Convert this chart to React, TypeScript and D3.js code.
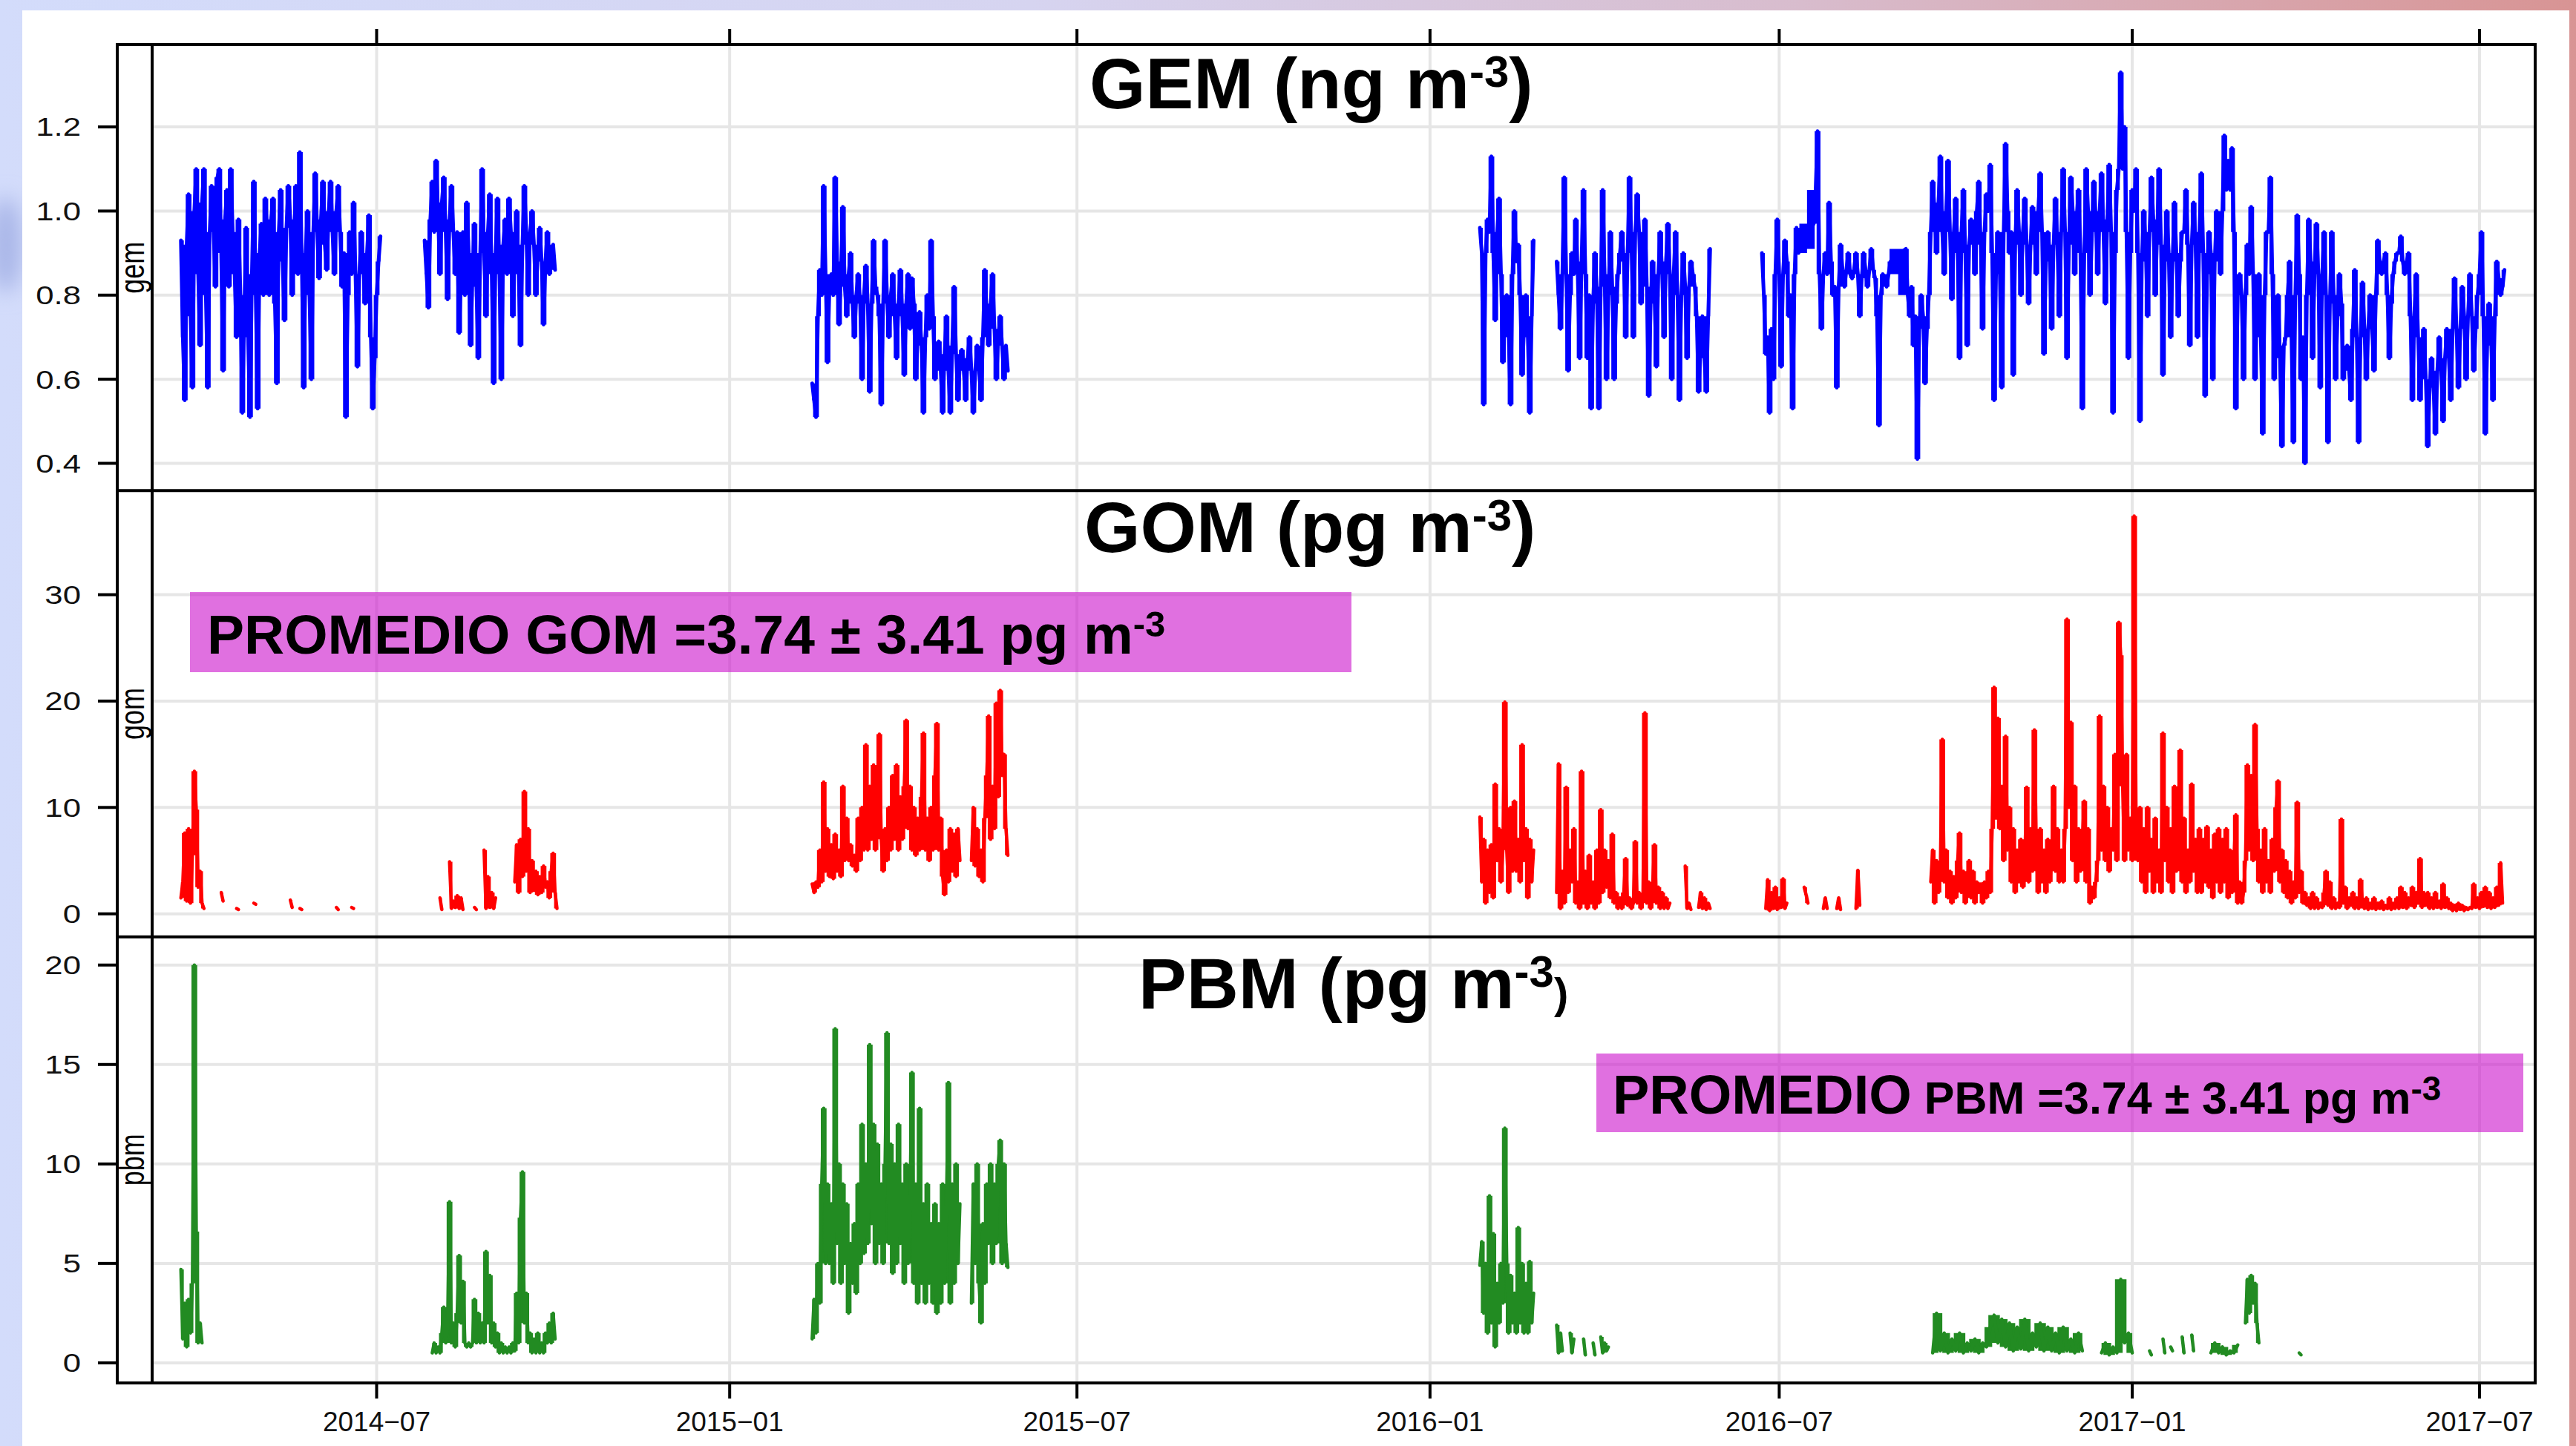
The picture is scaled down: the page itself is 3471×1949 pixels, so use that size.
import { useEffect, useRef } from "react";
import * as d3 from "d3";

const W = 3471;
const H = 1949;
const FONT = "'Liberation Sans', Arial, Helvetica, sans-serif";

// time axis
const xLimits = ["2014-03-06", "2017-07-30"];
const monthTicks = ["2014-07-01", "2015-01-01", "2015-07-01", "2016-01-01", "2016-07-01", "2017-01-01", "2017-07-01"];

// y axes
const gemLimits = [0.335, 1.396];
const gomLimits = [-2.16, 39.78];
const pbmLimits = [-1.01, 21.42];
const gemTicks = [0.4, 0.6, 0.8, 1.0, 1.2];
const gomTicks = [0, 10, 20, 30];
const pbmTicks = [0, 5, 10, 15, 20];

// ---- GEM (ng m-3), daily
const gem14a = [
  0.93,0.70,0.55,0.92,1.04,0.75,0.58,1.00,1.10,0.85,0.68,1.02,1.10,0.80,0.58,0.95,1.06,0.96,0.82,1.08,
  1.10,0.90,0.62,0.98,1.05,0.82,1.10,0.95,0.85,0.70,0.98,0.80,0.52,0.75,0.96,0.70,0.51,0.85,1.07,0.80,
  0.53,0.90,0.97,0.80,1.03,0.95,0.80,0.98,1.03,0.78,0.59,0.95,1.05,0.88,0.74,0.96,1.06,0.98,0.80,0.95,
  1.06,0.85,1.14,0.88,0.58,0.90,1.00,0.80,0.60,0.95,1.09,0.96,0.84,0.98,1.07,0.92,0.86,1.00,1.07,0.95,
  0.85,1.00,1.06,0.95,0.82,0.90,0.51,0.80,0.95,0.85,1.02,0.85,0.63,0.85,0.95,0.88,0.78,0.90,0.99,0.70,
  0.53,0.65,0.80,0.88,0.94];
const gem14b = [
  0.93,0.85,0.77,0.98,1.07,0.95,1.12,1.00,0.85,1.02,1.08,0.95,0.79,0.98,1.06,0.95,0.85,0.95,0.71,0.85,
  0.95,0.80,1.02,0.90,0.68,0.85,0.97,0.82,0.65,0.90,1.10,0.90,0.75,0.95,1.04,0.85,0.59,0.90,1.03,0.85,
  0.60,0.92,0.98,0.85,1.03,0.95,0.75,0.92,1.00,0.85,0.68,0.92,1.06,0.95,0.80,0.95,1.00,0.92,0.80,0.90,
  0.96,0.88,0.73,0.88,0.95,0.85,0.90,0.92,0.86];
const gem15 = [
  0.59,0.55,0.51,0.75,0.86,0.80,1.06,0.85,0.64,0.82,0.85,0.80,1.08,0.88,0.73,0.85,1.01,0.82,0.75,0.85,
  0.90,0.78,0.70,0.80,0.85,0.78,0.60,0.80,0.87,0.78,0.57,0.78,0.93,0.82,0.80,0.75,0.54,0.78,0.93,0.80,
  0.70,0.80,0.85,0.75,0.65,0.78,0.86,0.75,0.61,0.78,0.85,0.72,0.84,0.78,0.60,0.70,0.76,0.68,0.52,0.70,
  0.80,0.72,0.93,0.75,0.60,0.66,0.69,0.62,0.52,0.66,0.75,0.62,0.52,0.68,0.82,0.66,0.55,0.64,0.67,0.62,
  0.55,0.65,0.70,0.62,0.52,0.62,0.68,0.62,0.55,0.70,0.86,0.75,0.68,0.78,0.85,0.72,0.60,0.70,0.75,0.68,
  0.60,0.68,0.62];
const gem16a = [0.96,0.90,0.54,0.90,0.98,0.95,1.13,0.90,0.74,0.95,1.03,0.85,0.64,0.78,0.80,0.70,0.54,0.85,1.00,0.88,0.92,0.80,0.61,0.72,0.80,0.70,0.52,0.75,0.93];
const gem16b = [
  0.88,0.80,0.72,0.85,1.08,0.85,0.62,0.80,0.90,0.85,0.98,0.85,0.65,0.88,1.05,0.85,0.65,0.80,0.53,0.78,
  0.90,0.80,0.53,0.82,1.05,0.85,0.60,0.80,0.95,0.82,0.60,0.78,0.85,0.90,0.95,0.88,0.70,0.90,1.08,0.92,
  0.70,0.95,1.04,0.95,0.78,0.90,0.98,0.82,0.56,0.78,0.88,0.80,0.63,0.85,0.95,0.85,0.70,0.88,0.97,0.85,
  0.60,0.85,0.95,0.80,0.55,0.80,0.90,0.82,0.65,0.82,0.88,0.85,0.82,0.75,0.57,0.68,0.75,0.65,0.57,0.75,
  0.91];
const gem16c = [0.90,0.80,0.66,0.70,0.52,0.72,0.60,0.85,0.98,0.85,0.63,0.85,0.93,0.88,0.75,0.80,0.53,0.85,0.96,0.90,0.91];
const gem16d = [
  0.97,1.05,1.19,0.85,0.72,0.85,0.90,0.85,1.02,0.88,0.80,0.82,0.58,0.82,0.92,0.86,0.82,0.86,0.90,0.85,
  0.84,0.86,0.90,0.85,0.75,0.84,0.90,0.86,0.82,0.86,0.91,0.86,0.84,0.75,0.49,0.80,0.85,0.84,0.82,0.85,
  0.88];
const gem16e = [
  0.91,0.80,0.75,0.82,0.68,0.75,0.41,0.72,0.80,0.75,0.59,0.72,0.80,0.95,1.07,1.00,0.90,1.02,1.13,0.95,
  0.85,1.00,1.12,0.95,0.79,0.95,1.03,0.90,0.65,0.95,1.05,0.90,0.68,0.92,0.98,0.95,0.85,1.00,1.07,0.92,
  0.72,0.95,1.04,1.00,1.11,0.90,0.55,0.85,0.95,0.85,0.58,0.95,1.16,1.00,0.90,0.95,0.61,0.92,1.05,0.95,
  0.80,0.95,1.03,0.92,0.78,0.92,1.01,0.95,0.85,1.00,1.09,0.95,0.66,0.88,0.95,0.90,0.72,0.92,1.03,0.92,
  0.75,0.95,1.10,0.95,0.65,0.92,1.08,1.00,0.85,0.98,1.05,0.90,0.53,0.90,1.10,1.00,0.80,0.95,1.07,0.98,
  0.85,1.00,1.09,0.95,0.78,0.98,1.11,0.95,0.52,0.90,1.05,1.10,1.33,1.10,1.20,0.95,0.65,0.90,1.05,1.00,
  1.10,0.90,0.50,0.88,1.00,0.92,0.75,0.95,1.08,0.98,0.80,0.95,1.10,0.92,0.61,0.88,1.00,0.90,0.70,0.88,
  1.02,0.90,0.75,0.88,0.95,0.95,1.05,0.92,0.68,0.92,1.02,0.92,0.70,0.95,1.09,0.90,0.56,0.85,0.95,0.90,
  0.60,0.88,1.00,0.95,0.85,1.00,1.18,1.05,1.12,1.05,1.15,0.95,0.53,0.80,0.85,0.80,0.60,0.80,0.92,0.85,
  1.01,0.85,0.60,0.80,0.85,0.70,0.47,0.80,0.95,0.95,1.08,0.85,0.60,0.72,0.80,0.65,0.44,0.68,0.70,0.80,
  0.88,0.70,0.45,0.80,0.99,0.85,0.60,0.70,0.40,0.80,0.98,0.88,0.65,0.85,0.97,0.85,0.58,0.85,0.95,0.80,
  0.45,0.78,0.95,0.80,0.60,0.75,0.85,0.78,0.60,0.65,0.68,0.62,0.55,0.72,0.86,0.70,0.45,0.70,0.83,0.72,
  0.60,0.72,0.80,0.72,0.62,0.80,0.93,0.88,0.85,0.88,0.90,0.80,0.65,0.78,0.85,0.88,0.90,0.90,0.94,0.88,
  0.85,0.88,0.90,0.75,0.55,0.75,0.85,0.70,0.55,0.65,0.72,0.60,0.44,0.58,0.65,0.58,0.47,0.62,0.70,0.62,
  0.50,0.65,0.72,0.65,0.55,0.72,0.84,0.72,0.58,0.72,0.82,0.75,0.60,0.75,0.85,0.75,0.62,0.72,0.80,0.85,
  0.95,0.75,0.47,0.68,0.78,0.70,0.55,0.75,0.88,0.84,0.80,0.82,0.86];

// ---- GOM (pg m-3), daily
const gom14a = [1.5,3.0,7.6,1.2,8.0,1.0,5.5,13.4,9.8,2.5,4.0,1.0,0.5];
const gom14b = [3.0,6.5,2.0,7.0,3.5,11.5,4.0,8.0,2.0,5.0,2.2,4.0,1.8,3.5,2.0,4.5,2.5,3.0,1.5,4.0,5.7,2.0,0.5];
const gom15a = [
  2.8,2.0,3.0,2.5,6.0,3.0,12.4,4.0,8.0,3.5,
  6.5,3.3,7.5,4.0,6.0,3.5,12.0,5.0,9.0,5.0,
  6.5,4.5,5.5,4.0,9.0,5.0,10.0,6.0,15.9,6.0,
  12.0,7.0,14.0,6.0,10.0,16.9,7.0,4.0,8.0,5.0,
  10.0,6.0,13.0,7.0,14.0,6.0,11.0,7.0,12.0,18.2,
  8.0,12.0,6.0,10.0,5.5,9.0,6.0,11.0,17.0,6.0,
  9.0,5.0,10.0,6.0,13.0,17.9,6.0,9.0,3.5,1.8,
  6.0,3.0,8.0,4.0,7.5,3.5,8.0,5.0];
const gom15b = [5.0,10.0,4.5,8.0,3.5,6.0,3.0,9.0,13.0,18.6,7.0,12.0,8.0,19.8,11.0,21.0,13.0,15.0,8.0,5.5];
const gom16a = [9.1,3.0,7.0,1.0,6.0,2.0,6.5,1.5,12.2,5.0,8.0,3.0,6.0,19.9,6.0,2.0,10.0,4.0,10.6,4.0,7.0,3.0,15.9,5.0,8.0,1.5,7.0,3.0,6.0];
const gom16b = [
  2.0,14.1,0.5,4.0,1.0,11.9,2.0,6.0,3.0,8.0,
  1.0,3.0,0.5,13.4,1.0,4.0,0.5,5.5,1.0,3.0,
  0.5,6.0,1.0,9.8,2.0,6.0,2.5,5.0,1.5,7.5,
  1.0,2.0,0.5,1.5,0.5,2.0,5.2,0.8,1.5,0.5,
  1.0,6.8,1.0,2.0,0.5,1.5,18.9,1.0,3.0,0.5,
  2.5,6.5,1.0,2.5,0.5,2.0,0.5,1.5,0.5,1.0];
const gom16c = [
  3.0,6.0,1.0,5.0,2.0,4.5,16.4,3.0,6.0,1.5,
  4.0,1.0,3.5,1.5,5.0,7.6,2.0,4.0,1.0,3.0,
  5.0,1.5,4.0,1.0,3.0,2.0,2.8,1.0,3.0,1.5,
  4.0,2.0,8.0,21.3,9.0,18.4,8.0,12.0,5.0,16.7,
  6.0,10.0,3.0,8.0,2.0,6.0,3.0,7.0,2.5,5.0,
  11.9,3.0,8.0,4.0,17.3,6.0,2.0,8.0,3.0,6.0,
  2.0,7.0,3.0,5.0,12.0,4.0,8.0,3.0,6.0,3.0,
  8.0,27.7,10.0,18.0,5.0,12.0,3.0,8.0,4.0,7.0,
  10.6,3.0,8.0,1.0,2.5,1.5,3.0,5.0,18.6,6.0,
  12.0,5.0,10.0,4.0,8.0,6.0,15.0,5.0,27.4,24.3,
  12.0,5.0,15.0,6.0,9.0,5.0,37.4,8.0,5.0,10.0,
  3.0,8.0,2.0,10.0,4.0,7.0,2.0,9.0,3.0,6.0,
  2.0,17.0,5.0,10.0,3.0,8.0,2.0,12.0,4.0,7.0,
  15.4,3.0,9.0,2.0,6.0,3.0,12.2,4.0,7.0,2.0,
  8.0,2.0,7.0,3.0,8.2,2.5,6.0,1.5,7.5,3.0,
  8.0,2.0,7.0,3.0,8.0,1.5,6.0,2.0,5.0,9.3,
  1.0,3.0,1.0,2.0,5.0,14.0,6.0,13.0,5.0,17.8,
  8.0,3.0,6.0,2.0,8.0,3.0,5.0,2.0,7.0,4.0,
  10.0,12.5,3.0,6.0,2.0,5.0,1.5,4.0,1.0,3.0,
  1.5,10.5,2.0,4.0,1.0,2.0,0.8,1.5,0.5,2.0,
  0.5,1.5,0.5,1.0,0.6,2.0,4.0,0.8,3.0,0.5,
  1.5,0.5,1.0,0.6,8.9,1.0,2.5,0.5,1.5,0.8,
  2.0,0.5,1.5,0.5,3.2,1.0,0.5,1.5,0.4,1.0,
  0.5,1.5,0.4,1.0,0.5,1.2,0.4,0.8,0.5,1.5,
  0.4,1.0,0.5,1.5,0.5,2.5,0.6,2.0,0.5,1.5,
  0.8,2.5,0.6,2.0,1.0,5.2,0.6,2.0,0.8,2.0,
  0.5,1.5,0.5,2.0,0.6,1.2,0.5,2.8,0.6,1.5,
  0.5,1.0,0.3,0.8,0.3,1.0,0.4,0.8,0.3,0.6,
  0.4,0.6,0.5,2.8,0.6,1.5,0.5,2.0,0.7,2.5,
  0.6,2.0,0.5,1.5,0.6,2.5,0.8,4.8,1.0];
// short isolated GOM records: [start, values]
const gomBits: [string, number[]][] = [
  ["2014-04-11", [2.0, 1.2]], ["2014-04-19", [0.5, 0.4]], ["2014-04-28", [1.0, 0.9]],
  ["2014-05-17", [1.3, 0.6]], ["2014-05-22", [0.5, 0.4]], ["2014-06-10", [0.6, 0.4]],
  ["2014-06-18", [0.6, 0.5]], ["2014-08-03", [1.5, 0.4]],
  ["2014-08-08", [4.9, 0.5, 1.2, 0.6, 1.7, 0.5, 1.5, 0.4]], ["2014-08-21", [0.6, 0.4]],
  ["2014-08-26", [6.0, 0.5, 3.5, 0.6, 2.0, 0.5, 1.5]],
  ["2016-05-13", [4.5, 0.5, 1.0, 0.4]], ["2016-05-20", [0.6, 2.0, 0.5, 1.5, 0.4, 1.0, 0.5]],
  ["2016-06-24", [0.5, 3.2, 0.3, 2.0, 0.5, 2.5, 0.4, 1.5, 0.6, 3.3, 0.5, 1.0]],
  ["2016-07-14", [2.5, 1.8, 1.0]], ["2016-07-24", [0.5, 1.5, 0.5]],
  ["2016-07-31", [0.5, 1.5, 0.4]], ["2016-08-10", [0.5, 4.1, 0.8]]
];

// ---- PBM (pg m-3), daily unless noted
const pbm14a = [4.7,1.2,3.0,0.8,3.2,1.5,4.0,20.0,6.6,1.0,2.0,1.0];
const pbm14b = [
  0.5,1.0,0.5,0.8,0.5,1.5,2.8,1.0,1.8,8.1,
  1.0,2.0,0.8,2.5,5.4,2.0,4.1,1.0,0.8,1.0,
  0.8,1.0,3.2,1.0,2.5,1.0,2.0,1.0,5.6,2.0,
  4.4,1.0,2.0,0.8,1.5,0.5,1.0,0.5,0.8,0.5,
  0.8,0.5,1.0,0.6,3.5,1.0,7.3,9.6,2.0,3.5,
  1.0,1.5,0.5,1.2,0.5,1.5,0.5,1.0,0.5,1.5,
  1.0,2.0,1.0,2.5,1.2];
const pbm15a = [
  1.2,3.2,1.5,5.0,3.0,9.0,12.8,5.0,9.0,5.0,
  8.0,4.0,16.8,6.0,10.0,4.0,9.0,5.0,8.0,2.5,
  6.0,4.0,7.0,3.5,9.0,5.0,12.0,5.5,10.0,6.0,
  16.0,7.0,12.0,5.0,11.0,6.0,9.0,5.0,10.0,16.6,
  6.0,11.0,4.5,10.0,5.0,12.0,6.0,9.0,4.0,10.0,
  5.0,8.0,14.6,4.0,9.0,3.0,12.8,4.0,8.0,3.0,
  9.0,4.0,7.0,3.0,8.0,2.5,7.0,3.0,9.0,4.0,
  8.0,14.1,3.0,9.0,4.0,10.0,5.0,8.0];
const pbm15b = [3.0,9.0,5.0,10.0,4.0,2.0,7.0,4.0,9.0,6.0,10.0,5.0,9.0,6.0,10.0,11.2,5.0,10.0,6.0,4.8];
const pbm16a = [4.9,6.1,2.5,5.0,1.5,8.4,2.0,6.5,0.8,4.0,2.0,5.0,3.0,11.8,5.0,1.5,4.4,2.0,3.5,1.5,6.8,2.0,5.0,1.5,4.0,1.5,5.1,2.0,3.5];
const pbm16b = [0.5,2.5,0.6,1.5,0.5,1.2,0.6,1.5,0.5,1.0,0.6,1.2,0.5,1.0,0.8,1.8,2.4,1.0,2.2,0.8,2.0,0.6,1.8,0.7,2.2,0.6,1.5,0.8,2.0,0.6,1.8,0.6,1.5,0.5,1.8,0.6,1.2,0.5,1.5,0.6];
const pbm16c = [0.5,1.0,0.4,0.8,0.5,4.2,1.0,1.5,0.5];
const pbm17a = [0.5,1.0,0.5,0.8,0.4,0.6,0.5,0.9];
const pbm17b = [2.0,4.2,2.5,4.4,3.0,4.0,2.0,1.0];
const pbmBits: [string, number[]][] = [
  ["2016-03-07", [1.9, 0.5, 1.5, 0.6]], ["2016-03-14", [1.5, 0.5, 1.2]],
  ["2016-03-21", [1.2, 0.4]], ["2016-03-26", [1.0, 0.4]], ["2016-03-30", [1.3, 0.5, 1.0, 0.6, 0.8]],
  ["2017-01-10", [0.6, 0.4]], ["2017-01-17", [1.2, 0.5]], ["2017-01-21", [0.8, 0.6]],
  ["2017-01-27", [1.3, 0.5]], ["2017-02-01", [1.4, 0.6]], ["2017-03-29", [0.5, 0.4]]
];

type Seg = { start: string; step: number; values: number[]; join?: boolean };

const gemSegments: Seg[] = [
  { start: "2014-03-21", step: 1, values: gem14a },
  { start: "2014-07-26", step: 1, values: gem14b },
  { start: "2015-02-13", step: 1, values: gem15 },
  { start: "2016-01-27", step: 1, values: gem16a },
  { start: "2016-03-07", step: 1, values: gem16b },
  { start: "2016-06-22", step: 1, values: gem16c },
  { start: "2016-07-19", step: 1, values: gem16d, join: true },
  { start: "2016-09-05", step: 1, values: gem16e, join: true }
];
const gomSegments: Seg[] = [
  { start: "2014-03-21", step: 1, values: gom14a },
  { start: "2014-09-11", step: 1, values: gom14b },
  { start: "2015-02-13", step: 1, values: gom15a },
  { start: "2015-05-07", step: 1, values: gom15b },
  { start: "2016-01-27", step: 1, values: gom16a },
  { start: "2016-03-07", step: 1, values: gom16b },
  { start: "2016-09-18", step: 1, values: gom16c },
  ...gomBits.map(([start, values]) => ({ start, step: 1, values }))
];
const pbmSegments: Seg[] = [
  { start: "2014-03-21", step: 1, values: pbm14a },
  { start: "2014-07-30", step: 1, values: pbm14b },
  { start: "2015-02-13", step: 1, values: pbm15a },
  { start: "2015-05-07", step: 1, values: pbm15b },
  { start: "2016-01-27", step: 1, values: pbm16a },
  { start: "2016-09-19", step: 2, values: pbm16b },
  { start: "2016-12-16", step: 2, values: pbm16c },
  { start: "2017-02-11", step: 2, values: pbm17a },
  { start: "2017-03-01", step: 1, values: pbm17b },
  ...pbmBits.map(([start, values]) => ({ start, step: 1, values }))
];

const parse = d3.utcParse("%Y-%m-%d");

type Pt = { t: Date; v: number };
function toRuns(segs: Seg[]): Pt[][] {
  const runs: Pt[][] = [];
  for (const s of segs) {
    const t0 = parse(s.start) as Date;
    const pts = s.values.map((v, i) => ({ t: d3.utcDay.offset(t0, i * s.step), v }));
    if (s.join && runs.length) runs[runs.length - 1].push(...pts);
    else runs.push(pts);
  }
  return runs;
}

// range swept by the dense (hourly) trace around each daily reading:
// min/max over the neighbouring readings
type Band = { t: Date; lo: number; hi: number };
function toBands(run: Pt[]): Band[] {
  return run.map((p, i) => {
    const win = run.slice(Math.max(0, i - 1), Math.min(run.length, i + 2)).map(d => d.v);
    return { t: p.t, lo: d3.min(win) as number, hi: d3.max(win) as number };
  });
}

export default function App() {
  const ref = useRef<SVGSVGElement | null>(null);

  useEffect(() => {
    const svg = d3.select(ref.current);
    svg.selectAll("*").remove();

    const m = { outer: 158, strip: 205, right: 3416, top: 60, bottom: 1864 };
    const panelH = (m.bottom - m.top) / 3;

    const defs = svg.append("defs");
    const bg = defs.append("linearGradient").attr("id", "bgGrad")
      .attr("x1", "0%").attr("y1", "0%").attr("x2", "100%").attr("y2", "0%");
    bg.append("stop").attr("offset", "0%").attr("stop-color", "#d3dcfb");
    bg.append("stop").attr("offset", "40%").attr("stop-color", "#d6d4f0");
    bg.append("stop").attr("offset", "70%").attr("stop-color", "#d8bccd");
    bg.append("stop").attr("offset", "100%").attr("stop-color", "#d89494");
    defs.append("filter").attr("id", "soft").attr("x", "-100%").attr("y", "-100%")
      .attr("width", "300%").attr("height", "300%")
      .append("feGaussianBlur").attr("stdDeviation", 14);

    svg.append("rect").attr("width", W).attr("height", H).attr("fill", "url(#bgGrad)");
    svg.append("ellipse").attr("cx", 8).attr("cy", 330).attr("rx", 22).attr("ry", 65)
      .attr("fill", "#a9b6e8").attr("filter", "url(#soft)");
    svg.append("rect").attr("x", 30).attr("y", 14).attr("width", 3432).attr("height", H - 14)
      .attr("fill", "#ffffff");

    const x = d3.scaleUtc()
      .domain(xLimits.map(d => parse(d) as Date))
      .range([m.strip, m.right]);
    const months = monthTicks.map(d => parse(d) as Date);
    const fmtMonth = d3.utcFormat("%Y-%m");

    const panels = [
      { key: "gem", lim: gemLimits, ticks: gemTicks, fmt: d3.format(".1f"), color: "#0000ff", lw: 5, segs: gemSegments },
      { key: "gom", lim: gomLimits, ticks: gomTicks, fmt: d3.format("d"), color: "#ff0000", lw: 4.5, segs: gomSegments },
      { key: "pbm", lim: pbmLimits, ticks: pbmTicks, fmt: d3.format("d"), color: "#228b22", lw: 4.5, segs: pbmSegments }
    ];

    panels.forEach((p, k) => {
      const top = m.top + k * panelH;
      const bot = top + panelH;
      const y = d3.scaleLinear().domain(p.lim).range([bot, top]);

      defs.append("clipPath").attr("id", `clip-${p.key}`)
        .append("rect").attr("x", m.strip).attr("y", top)
        .attr("width", m.right - m.strip).attr("height", panelH);

      const g = svg.append("g");
      g.selectAll("line.hg").data(p.ticks).enter().append("line")
        .attr("x1", m.strip).attr("x2", m.right)
        .attr("y1", d => y(d)).attr("y2", d => y(d))
        .attr("stroke", "#e6e6e6").attr("stroke-width", 4);
      g.selectAll("line.vg").data(months).enter().append("line")
        .attr("x1", d => x(d)).attr("x2", d => x(d))
        .attr("y1", top).attr("y2", bot)
        .attr("stroke", "#e6e6e6").attr("stroke-width", 4);

      const runs = toRuns(p.segs);
      const dg = g.append("g").attr("clip-path", `url(#clip-${p.key})`);
      const area = d3.area<Band>()
        .x(d => x(d.t)).y0(d => y(d.lo)).y1(d => y(d.hi))
        .curve(d3.curveStep);
      dg.selectAll("path.band").data(runs.map(toBands)).enter().append("path")
        .attr("class", "band")
        .attr("d", d => area(d) ?? "")
        .attr("fill", p.color);
      const line = d3.line<Pt>().x(d => x(d.t)).y(d => y(d.v));
      dg.selectAll("path.trace").data(runs).enter().append("path")
        .attr("class", "trace")
        .attr("d", d => line(d) ?? "")
        .attr("fill", "none")
        .attr("stroke", p.color)
        .attr("stroke-width", p.lw)
        .attr("stroke-linejoin", "round")
        .attr("stroke-linecap", "round");

      // y axis ticks on the left of the strip
      g.selectAll("line.yt").data(p.ticks).enter().append("line")
        .attr("x1", m.outer - 26).attr("x2", m.outer)
        .attr("y1", d => y(d)).attr("y2", d => y(d))
        .attr("stroke", "#000").attr("stroke-width", 4);
      g.selectAll("text.yl").data(p.ticks).enter().append("text")
        .attr("transform", d => `translate(109,${y(d)}) scale(1.25,1)`)
        .attr("text-anchor", "end")
        .attr("dominant-baseline", "central")
        .attr("font-family", FONT)
        .attr("font-size", 35)
        .attr("fill", "#111")
        .text(d => p.fmt(d));

      // strip label
      g.append("text")
        .attr("transform", `translate(194,${(top + bot) / 2}) rotate(-90) scale(1,1.3)`)
        .attr("text-anchor", "middle")
        .attr("font-family", FONT)
        .attr("font-size", 36)
        .attr("fill", "#000")
        .text(p.key);
    });

    // frames
    const fr = svg.append("g").attr("stroke", "#000").attr("stroke-width", 4).attr("fill", "none");
    fr.append("rect").attr("x", m.outer).attr("y", m.top)
      .attr("width", m.right - m.outer).attr("height", m.bottom - m.top);
    fr.append("line").attr("x1", m.strip).attr("x2", m.strip).attr("y1", m.top).attr("y2", m.bottom);
    [1, 2].forEach(k => {
      fr.append("line").attr("x1", m.outer).attr("x2", m.right)
        .attr("y1", m.top + k * panelH).attr("y2", m.top + k * panelH);
    });

    // x ticks top and bottom
    fr.selectAll("line.tt").data(months).enter().append("line")
      .attr("x1", d => x(d)).attr("x2", d => x(d)).attr("y1", m.top - 21).attr("y2", m.top);
    fr.selectAll("line.bt").data(months).enter().append("line")
      .attr("x1", d => x(d)).attr("x2", d => x(d)).attr("y1", m.bottom).attr("y2", m.bottom + 21);
    svg.selectAll("text.xl").data(months).enter().append("text")
      .attr("x", d => x(d)).attr("y", 1929)
      .attr("text-anchor", "middle")
      .attr("font-family", FONT)
      .attr("font-size", 37)
      .attr("fill", "#111")
      .text(d => fmtMonth(d).replace("-", "\u2212"));

    // mean boxes
    const boxFill = "rgb(203,17,203)";
    svg.append("rect").attr("x", 256).attr("y", 798).attr("width", 1565).attr("height", 108)
      .attr("fill", boxFill).attr("fill-opacity", 0.6);
    const t1 = svg.append("text").attr("x", 279).attr("y", 881)
      .attr("font-family", FONT).attr("font-weight", "bold").attr("font-size", 75)
      .style("white-space", "pre");
    t1.append("tspan").text("PROMEDIO GOM =3.74 \u00b1 3.41 pg m");
    t1.append("tspan").attr("font-size", 49).attr("dy", -23).text("-3");

    svg.append("rect").attr("x", 2151).attr("y", 1420).attr("width", 1249).attr("height", 106)
      .attr("fill", boxFill).attr("fill-opacity", 0.6);
    const t2 = svg.append("text").attr("x", 2173).attr("y", 1501)
      .attr("font-family", FONT).attr("font-weight", "bold")
      .style("white-space", "pre");
    t2.append("tspan").attr("font-size", 74).text("PROMEDIO");
    t2.append("tspan").attr("font-size", 61).text(" PBM =3.74 \u00b1 3.41 pg m");
    t2.append("tspan").attr("font-size", 46).attr("dy", -18).text("-3");

    // panel titles
    const titles = [
      { x: 1468, y: 146, main: "GEM (ng m", close: 97 },
      { x: 1461, y: 744, main: "GOM (pg m", close: 97 },
      { x: 1534, y: 1359, main: "PBM (pg m", close: 58 }
    ];
    titles.forEach(t => {
      const tx = svg.append("text").attr("x", t.x).attr("y", t.y)
        .attr("font-family", FONT).attr("font-weight", "bold").attr("font-size", 97)
        .style("white-space", "pre");
      tx.append("tspan").text(t.main);
      tx.append("tspan").attr("font-size", 60).attr("dy", -29).text("-3");
      tx.append("tspan").attr("font-size", t.close).attr("dy", 29).text(")");
    });
  }, []);

  return (
    <svg
      ref={ref}
      width={W}
      height={H}
      style={{ position: "absolute", left: 0, top: 0, display: "block" }}
    />
  );
}
